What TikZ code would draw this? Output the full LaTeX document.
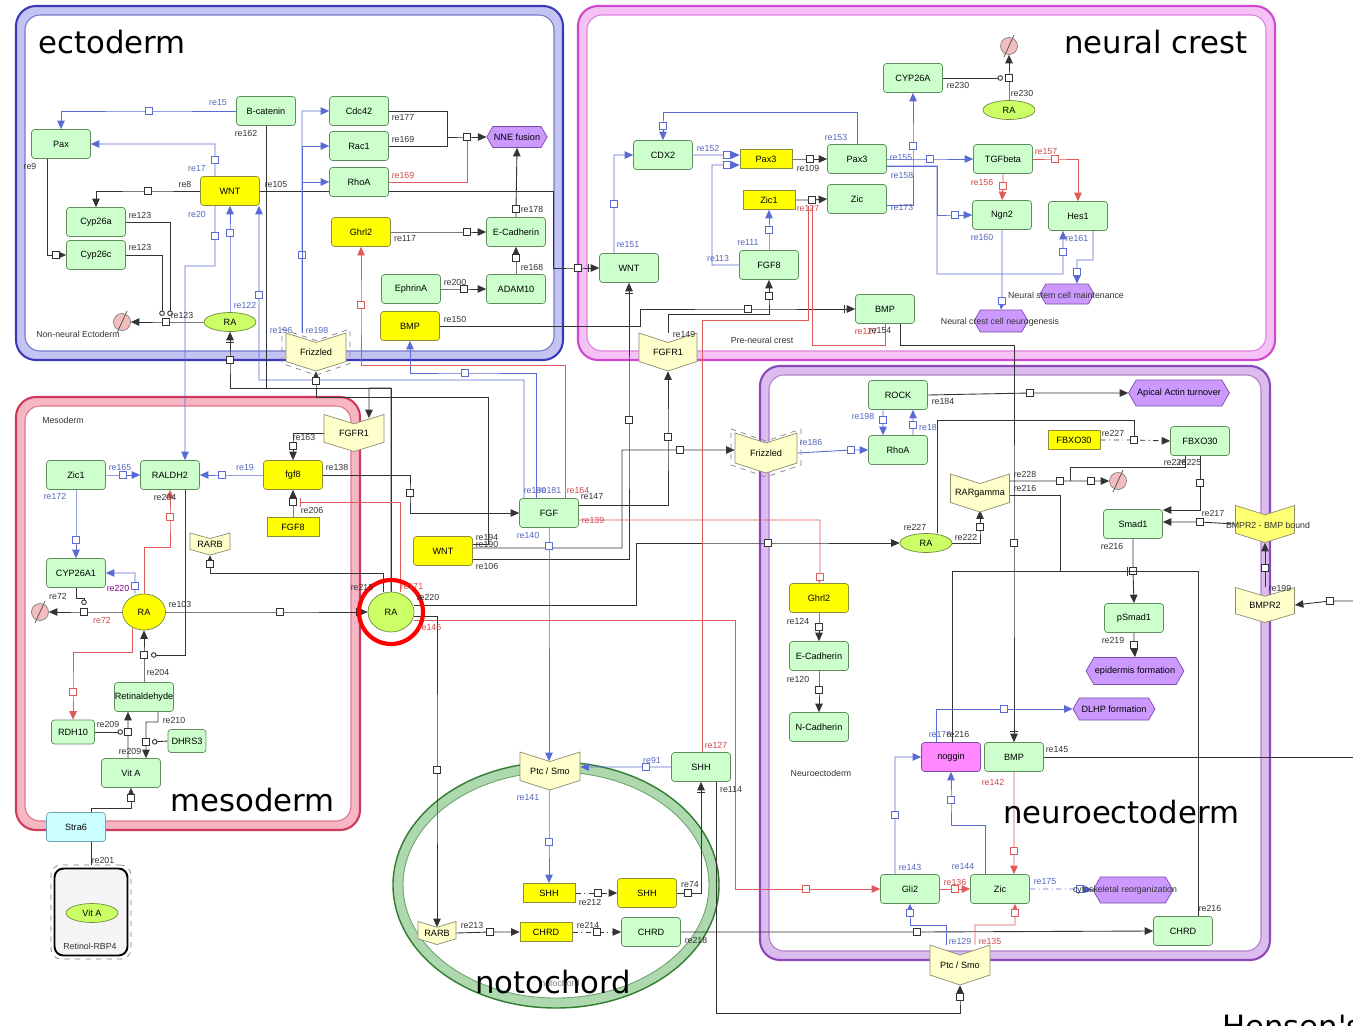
\documentclass[tikz,border=0pt]{standalone}
\usepackage{fontspec}
\setmainfont{Liberation Sans}
\newfontfamily\bigf{DejaVu Sans}
\usetikzlibrary{arrows.meta,shapes.geometric,shapes.symbols}

\definecolor{specfill}{HTML}{CCFFCC}
\definecolor{specdraw}{HTML}{5E8C5E}
\definecolor{genefill}{HTML}{FFFF00}
\definecolor{genedraw}{HTML}{8C8C3C}
\definecolor{recfill}{HTML}{FFFFCC}
\definecolor{recdraw}{HTML}{8C8C6E}
\definecolor{simfill}{HTML}{CCFF66}
\definecolor{simdraw}{HTML}{6E8C3C}
\definecolor{phefill}{HTML}{CC99FF}
\definecolor{phedraw}{HTML}{7A4AA8}
\definecolor{degfill}{HTML}{F4BDBD}
\definecolor{nogfill}{HTML}{FF88FF}
\definecolor{strafill}{HTML}{CCFFFF}
\definecolor{lnblue}{HTML}{5A6AD6}
\definecolor{lnred}{HTML}{E05A5A}
\definecolor{lnblack}{HTML}{333333}
\definecolor{labblue}{HTML}{5566BB}
\definecolor{labred}{HTML}{D04848}
\definecolor{ectoline}{HTML}{3A3AB8}
\definecolor{ectoband}{HTML}{C4C4F2}
\definecolor{crestline}{HTML}{D048D0}
\definecolor{crestband}{HTML}{F6C2F6}
\definecolor{mesoline}{HTML}{D03A5A}
\definecolor{mesoband}{HTML}{F6B6C4}
\definecolor{neuroline}{HTML}{8A48B8}
\definecolor{neuroband}{HTML}{DCBCEE}
\definecolor{notoline}{HTML}{2E7D2E}
\definecolor{notoband}{HTML}{AED8AE}

\pgfdeclarelayer{comp}
\pgfdeclarelayer{edges}
\pgfsetlayers{comp,edges,main}

\tikzset{
  fs/.style={font=\fontsize{5.2}{6}\selectfont},
  spec/.style={rectangle, rounded corners=0.06cm, draw=specdraw, fill=specfill, minimum width=1.18cm, minimum height=0.58cm, inner sep=0, fs},
  gene/.style={spec, fill=genefill, draw=genedraw},
  rna/.style={rectangle, draw=genedraw, fill=genefill, minimum width=1.04cm, minimum height=0.38cm, inner sep=0, fs},
  simple/.style={ellipse, draw=simdraw, fill=simfill, minimum width=1.04cm, minimum height=0.38cm, inner sep=0, fs},
  pheno/.style={signal, signal to=east and west, signal pointer angle=120, draw=phedraw, fill=phefill, minimum width=1.2cm, minimum height=0.42cm, inner xsep=0.02cm, inner ysep=0, fs},
  recbox/.style={inner sep=0, fs},
  recshape/.style={draw=recdraw, fill=recfill},
  degr/.style={circle, draw=gray, fill=degfill, minimum size=0.34cm, inner sep=0},
  proc/.style={rectangle, draw, fill=white, minimum size=0.15cm, inner sep=0, line width=0.4pt},
  lab/.style={inner sep=0, font=\fontsize{5}{6}\selectfont, text=lnblack},
  bk/.style={color=lnblack, line width=0.5pt},
  bl/.style={color=lnblue, line width=0.5pt},
  rd/.style={color=lnred, line width=0.5pt},
  arr/.style={-{Triangle[length=0.17cm,width=0.15cm]}},
  trig/.style={-{Bar[width=0.16cm,sep=0.04cm]Triangle[length=0.17cm,width=0.15cm]}},
  cat/.style={-{Circle[open,length=0.11cm]}},
  inhb/.style={-{Bar[width=0.18cm]}},
  big/.style={inner sep=0, font=\bigf\fontsize{17.5}{20}\selectfont},
}

\newcommand{\compart}[6]{%
  \draw[rounded corners=0.4cm, fill=#6, draw=#5, line width=1.2pt] (#1,#2) rectangle (#3,#4);
  \draw[rounded corners=0.3cm, fill=white, draw=#5!70, line width=0.6pt] ({#1+9},{#2+9}) rectangle ({#3-9},{#4-9});}
\newcommand{\recpoly}[5][]{%
  \filldraw[recshape,#1] ({#2-#4/2},{#3-#5/2}) -- (#2,{#3-#5/4}) -- ({#2+#4/2},{#3-#5/2})
    -- ({#2+#4/2},{#3+#5/4}) -- (#2,{#3+#5/2}) -- ({#2-#4/2},{#3+#5/4}) -- cycle;}
\newcommand{\recep}[7][]{%
  \recpoly[#1]{#3}{#4}{#5}{#6}
  \node[recbox, minimum width={#5*0.02cm}, minimum height={#6*0.02cm}] (#2) at (#3,#4) {#7};}
\newcommand{\degsym}[3]{%
  \node[degr] (#1) at (#2,#3) {};
  \draw[gray!60!black] ([shift={(-0.1cm,-0.22cm)}]#1.center) -- ([shift={(0.1cm,0.22cm)}]#1.center);}
\newcommand{\klab}[3]{\node[lab] at (#1,#2) {#3};}
\newcommand{\blab}[3]{\node[lab, text=labblue] at (#1,#2) {#3};}
\newcommand{\rlab}[3]{\node[lab, text=labred] at (#1,#2) {#3};}

\begin{document}
\begin{tikzpicture}[x=0.02cm, y=-0.02cm]
\useasboundingbox (0,0) rectangle (1353,1025);

\begin{pgfonlayer}{comp}
\compart{16}{6}{563}{360}{ectoline}{ectoband}
\compart{578}{6}{1275}{360}{crestline}{crestband}
\compart{16}{397}{360}{830}{mesoline}{mesoband}
\compart{760}{366}{1270}{960}{neuroline}{neuroband}
\draw[notoband, line width=0.2cm] (556,885) ellipse [x radius=158, y radius=118];
\draw[notoline, line width=0.8pt] (556,885) ellipse [x radius=163, y radius=123];
\draw[notoline!70, line width=0.5pt] (556,885) ellipse [x radius=153, y radius=113];
\end{pgfonlayer}

% ectoderm
\node[spec] (bcat) at (266,111) {B-catenin};
\node[spec] (paxE) at (61,144) {Pax};
\node[gene] (wntE) at (230,191) {WNT};
\node[spec] (cyp26a) at (96,222) {Cyp26a};
\node[spec] (cyp26c) at (96,255) {Cyp26c};
\node[simple] (raE) at (230,322) {RA};
\degsym{degE}{122}{322}
\node[spec] (cdc42) at (359,111) {Cdc42};
\node[spec] (rac1) at (359,146) {Rac1};
\node[spec] (rhoaE) at (359,182) {RhoA};
\node[pheno] (nne) at (517,137) {NNE fusion};
\node[gene] (ghrl2E) at (361,232) {Ghrl2};
\node[spec] (ecadE) at (516,232) {E-Cadherin};
\node[spec] (ephA) at (411,289) {EphrinA};
\node[spec] (adam10) at (516,289) {ADAM10};
\node[gene] (bmpE) at (410,326) {BMP};
\recpoly[draw=gray, dashed, fill=none]{316}{352}{68}{46}
\recep{frzE}{316}{352}{60}{38}{Frizzled}

% neural crest
\node[spec] (cdx2) at (663,155) {CDX2};
\node[rna] (pax3r) at (766,159) {Pax3};
\node[spec] (pax3) at (857,159) {Pax3};
\node[rna] (zic1r) at (769,200) {Zic1};
\node[spec] (zicN) at (857,199) {Zic};
\node[spec] (fgf8N) at (769,265) {FGF8};
\node[spec] (wntN) at (629,268) {WNT};
\node[spec] (cyp26A) at (913,78) {CYP26A};
\node[simple] (raN) at (1009,110) {RA};
\degsym{degN}{1009}{46}
\node[spec] (tgfb) at (1003,159) {TGFbeta};
\node[spec] (ngn2) at (1002,215) {Ngn2};
\node[spec] (hes1) at (1078,216) {Hes1};
\node[pheno, minimum width=1.08cm, minimum height=0.4cm] (nsc) at (1067,294) {};
\node[pheno, minimum width=1.08cm, minimum height=0.44cm] (ncn) at (1001,321) {};
\node[spec] (bmpN) at (885,309) {BMP};
\recep{fgfr1N}{668}{352}{58}{38}{FGFR1}

% mesoderm
\node[spec] (zic1M) at (76,475) {Zic1};
\node[spec] (raldh2) at (170,475) {RALDH2};
\node[gene] (fgf8g) at (293,475) {fgf8};
\node[rna] (fgf8r) at (293,527) {FGF8};
\recep{fgfr1M}{354}{433}{60}{37}{FGFR1}
\recep{rarbM}{210}{544}{40}{22}{RARB}
\node[spec] (cyp26a1) at (76,573) {CYP26A1};
\node[simple, fill=genefill, minimum width=0.86cm, minimum height=0.72cm] (raM) at (144,612) {RA};
\degsym{degM}{40}{612}
\node[spec] (retal) at (144,697) {Retinaldehyde};
\node[spec, minimum width=0.86cm, minimum height=0.48cm] (rdh10) at (73,732) {RDH10};
\node[spec, minimum width=0.76cm, minimum height=0.46cm] (dhrs3) at (187,741) {DHRS3};
\node[spec] (vitA) at (131,773) {Vit A};
\node[spec, fill=strafill, draw=cyan!40!gray] (stra6) at (76,827) {Stra6};
\node[draw=gray, dashed, rounded corners=0.2cm, minimum width=1.6cm, minimum height=1.88cm] (cplx) at (91,912) {};
\node[draw=black, line width=1.1pt, fill=gray!8, rounded corners=0.18cm, minimum width=1.46cm, minimum height=1.74cm] (cplxin) at (91,912) {};
\node[simple] (vitAc) at (92,913) {Vit A};
\node[simple, minimum width=0.92cm, minimum height=0.8cm] (raC) at (391,612) {RA};
\draw[red, line width=2.4pt] (raC) circle [radius=32];
\node[spec] (fgfC) at (549,513) {FGF};
\node[gene] (wntC) at (443,551) {WNT};

% neuroectoderm
\node[spec] (rock) at (898,395) {ROCK};
\node[spec] (rhoaN) at (898,450) {RhoA};
\recpoly[draw=gray, dashed, fill=none]{766}{453}{70}{48}
\recep{frzN}{766}{453}{62}{40}{Frizzled}
\node[pheno, minimum width=1.84cm, minimum height=0.52cm] (apical) at (1179,393) {Apical Actin turnover};
\node[rna] (fbxr) at (1074,440) {FBXO30};
\node[spec] (fbx) at (1200,441) {FBXO30};
\degsym{degNE}{1118}{481}
\recep{rarg}{980}{493}{59}{38}{RARgamma}
\node[spec] (smad1) at (1133,524) {Smad1};
\recep[fill=genefill!55]{bmpb}{1265}{524}{59}{37}{}
\recep{bmpr2}{1265}{605}{59}{35}{BMPR2}
\node[simple] (raNE) at (926,543) {RA};
\node[gene] (ghrl2N) at (819,598) {Ghrl2};
\node[spec] (ecadN) at (819,656) {E-Cadherin};
\node[spec] (ncad) at (819,727) {N-Cadherin};
\node[spec] (psmad1) at (1134,618) {pSmad1};
\node[pheno, minimum width=1.9cm, minimum height=0.54cm] (epid) at (1135,671) {epidermis formation};
\node[pheno, minimum width=1.64cm, minimum height=0.44cm] (dlhp) at (1114,709) {DLHP formation};
\node[spec, fill=nogfill, draw=phedraw] (noggin) at (951,757) {noggin};
\node[spec] (bmpNE) at (1014,757) {BMP};
\node[spec] (gli2) at (910,889) {Gli2};
\node[spec] (zicNE) at (1000,889) {Zic};
\node[pheno, minimum width=1.6cm, minimum height=0.52cm] (cyto) at (1133,890) {};
\node[spec] (chrdNE) at (1183,931) {CHRD};
\recep{ptcNE}{960}{965}{60}{40}{Ptc / Smo}

% notochord
\recep{ptcC}{550}{771}{60}{38}{Ptc / Smo}
\node[spec] (shhC) at (701,767) {SHH};
\node[rna] (shhr) at (549,893) {SHH};
\node[gene] (shhg) at (647,893) {SHH};
\recep{rarbC}{437}{933}{38}{23}{RARB}
\node[rna] (chrdr) at (546,932) {CHRD};
\node[spec] (chrdC) at (651,932) {CHRD};

\coordinate (p127) at (812,206);
\coordinate (offR) at (1353,601);
\coordinate (offB) at (1353,757);

\begin{pgfonlayer}{edges}
% ectoderm
\draw[bl,arr] (bcat.west) -- (149,111) node[proc]{} -| (paxE.north);
\draw[bl,arr] ([xshift=-0.3cm]wntE.north) -- (215,160) node[proc]{} |- (paxE.east);
\draw[bk,arr] (wntE.west) -- (148,191) node[proc]{} -| (cyp26a.north);
\draw[bk,arr] ([xshift=-0.28cm]paxE.south) |- (56,255) node[proc]{} -- (cyp26c.west);
\draw[bk,cat] (cyp26a.east) -| (170,316);
\draw[bk,cat] (cyp26c.east) -| (162,316);
\draw[bk,arr] (raE.west) -- (166,322) node[proc]{} -- (degE.east);
\draw[bl,arr] (raE.north) -- (230,233) node[proc]{} -- (wntE.south);
\draw[bl,arr] ([xshift=-0.5cm]fgfC.north) |- (259,380) -- (259,295) node[proc]{} -- ([xshift=0.58cm]wntE.south);
\draw[bl,arr] ([xshift=-0.26cm]fgfC.north) |- (465,373) node[proc]{} -| (bmpE.south);
\draw[bl,arr] ([xshift=-0.3cm]wntE.south) -- (215,236) node[proc]{} |- (185,266) -- ([xshift=0.3cm]raldh2.north);
\draw[bk,trig] (wntE.east) -| (553,268) -- (578,268) node[proc]{} -- (wntN.west);
\draw[bk] (bcat.south) -- (266,388);
\draw[bl,arr] ([xshift=-0.28cm]frzE.north) -- (302,255) node[proc]{} |- (cdc42.west);
\draw[bl,arr] ([xshift=-0.28cm]frzE.north) |- (rac1.west);
\draw[bl,arr] ([xshift=-0.28cm]frzE.north) |- (rhoaE.west);
\draw[bk,arr] (cdc42.east) -| (447,137) -- (467,137) node[proc]{} -- (nne.west);
\draw[bk] (rac1.east) -| (447,137);
\draw[rd] (rhoaE.east) -| (467,141);
\draw[bk,arr] (ecadE.north) -- (516,209) node[proc]{} -- (nne.south);
\draw[bk,arr] (ghrl2E.east) -- (467,232) node[proc]{} -- (ecadE.west);
\draw[bk,arr] (adam10.north) -- (516,258) node[proc]{} -- (ecadE.south);
\draw[bk,arr] (ephA.east) -- (464,289) node[proc]{} -- (adam10.west);
\draw[bk,trig] (bmpE.east) -| (640,309) -- (748,309) node[proc]{} -- (bmpN.west);
\draw[bk,arr] (fgfr1N.north) |- (769,314) -- (769,296) node[proc]{} -- (fgf8N.south);
\draw[rd,arr] ([xshift=0.32cm]fgfC.north) |- (361,365) -- (361,305) node[proc]{} -- (ghrl2E.south);
% RA of the mesoderm border
\draw[bk,trig] (raC.north) |- (230,388) -- (230,360) node[proc]{} -- (raE.south);
\draw[bk,arr] (raC.north) |- (369,388) -- ([xshift=0.3cm,yshift=-0.08cm]fgfr1M.north);
\draw[bk,arr] ([yshift=0.14cm]wntC.east) -| (488,397) -| (316,381) node[proc]{} -- (frzE.south);
\draw[bk,arr] ([yshift=0.06cm]wntC.east) -| (622,450) -- (680,450) node[proc]{} -- ([yshift=0.06cm]frzN.west);
\draw[bk,trig] ([yshift=-0.16cm]wntC.east) -| (629,420) node[proc]{} -- (wntN.south);
\draw[bk,arr] ([yshift=0.16cm]fgfC.east) -| (668,437) node[proc]{} -- (fgfr1N.south);
\draw[rd,arr] ([yshift=-0.14cm]fgfC.east) -| (820,577) node[proc]{} -- (ghrl2N.north);
\draw[bk,arr] (fgf8g.east) -| (410,493) node[proc]{} |- (fgfC.west);
\draw[bl,arr] (fgf8g.west) -- (222,475) node[proc]{} -- (raldh2.east);
\draw[bk,arr] (fgfr1M.west) -| (293,446) node[proc]{} -- (fgf8g.north);
\draw[bk,arr] (fgf8r.north) -- (293,502) node[proc]{} -- (fgf8g.south);
\draw[rd,inhb] ([xshift=0.18cm]raC.north) |- (300,502);
\draw[rd,arr] ([yshift=-0.16cm]raC.east) -| (735,889) -- (806,889) node[proc]{} -- (gli2.west);
\draw[bk,trig] (raM.east) -- (280,612) node[proc]{} -- (raC.west);
\draw[bk,arr] ([xshift=-0.16cm]raC.north) |- (210,573) -- (210,564) node[proc]{} -- (rarbM.south);
\draw[bk,arr] ([yshift=0.14cm]raC.east) -| (636,543) -- (768,543) node[proc]{} -- (raNE.west);
\draw[bk,arr] ([yshift=-0.08cm]raC.east) -| (437,770) node[proc]{} -- ([yshift=-0.12cm]rarbC.north);
% mesoderm
\draw[bl,arr] (zic1M.east) -- (123,475) node[proc]{} -- (raldh2.west);
\draw[bl,arr] (zic1M.south) -- (76,540) node[proc]{} -- (cyp26a1.north);
\draw[rd,arr] (raM.north) |- (170,547) -- (170,517) node[proc]{} -- (raldh2.south);
\draw[bl,arr] ([xshift=-0.18cm]raM.north) -- (135,586) node[proc]{} |- (cyp26a1.east);
\draw[bk,cat] ([xshift=0.3cm]raldh2.south) |- (151,655);
\draw[bk,arr] (retal.north) -- (144,655) node[proc]{} -- (raM.south);
\draw[rd,arr] (raM.235) |- (73,652) -- (73,692) node[proc]{} -- (rdh10.north);
\draw[bk,arr] (raM.west) -- (84,612) node[proc]{} -- (degM.east);
\draw[bk,cat] (cyp26a1.south) |- (84,598) -- (84,605);
\draw[bk,arr] ([xshift=-0.06cm]vitA.north) -- (128,732) node[proc]{} -- ([xshift=-0.32cm]retal.south);
\draw[bk,cat] (rdh10.east) -- (123,732);
\draw[bk,arr] ([xshift=0.28cm]retal.south) |- (146,722) -- (146,742) node[proc]{} -- ([xshift=0.3cm]vitA.north);
\draw[bk,cat] (dhrs3.west) -- (152,742);
\draw[bk,trig] (cplx.north) |- (131,808) -- (131,798) node[proc]{} -- (vitA.south);
% neural crest
\draw[bl,arr] ([xshift=-0.3cm]wntN.north) -- (614,204) node[proc]{} |- (cdx2.west);
\draw[bl,arr] (cdx2.east) -- (727,155) node[proc]{} -- ([yshift=0.08cm]pax3r.west);
\draw[bl,arr] (fgf8N.west) -| (712,165) -- (727,165) node[proc]{} -- ([yshift=-0.12cm]pax3r.west);
\draw[bl,arr] (fgf8N.north) -- (769,230) node[proc]{} -- (zic1r.south);
\draw[bk,arr] (pax3r.east) -- (810,159) node[proc]{} -- (pax3.west);
\draw[bk,arr] (zic1r.east) -- (812,200) node[proc]{} -- (zicN.west);
\draw[bl,arr] (pax3.north) |- (663,112) -- (663,126) node[proc]{} -- (cdx2.north);
\draw[bl,arr] (pax3.east) -- (930,159) node[proc]{} -- (tgfb.west);
\draw[bl,arr] ([yshift=-0.12cm]zicN.east) -| (913,146) node[proc]{} -- (cyp26A.south);
\draw[bl,arr] ([yshift=-0.14cm]pax3.east) -| (937,274) -| (1063,252) node[proc]{} -- ([xshift=-0.3cm]hes1.south);
\draw[bl,arr] ([yshift=-0.14cm]pax3.east) -| (937,215) -- (955,215) node[proc]{} -- (ngn2.west);
\draw[rd,arr] (tgfb.south) -- (1003,186) node[proc]{} -- (ngn2.north);
\draw[rd,arr] (tgfb.east) -- (1055,159) node[proc]{} -| (hes1.north);
\draw[bl,arr] (ngn2.south) -- (1002,301) node[proc]{} -- (ncn.north);
\draw[bl,arr] ([xshift=0.3cm]hes1.south) |- (1077,260) -- (1077,272) node[proc]{} -- ([xshift=0.2cm]nsc.north);
\draw[bk,arr] (raN.north) -- (1009,78) node[proc]{} -- (degN.south);
\draw[bk,cat] (cyp26A.east) -- (1003,78);
\draw[bk,trig] ([xshift=0.3cm]bmpN.south) |- (1014,345) -- (1014,543) node[proc]{} -- (bmpNE.north);
\draw[rd] ([xshift=0.02cm]shhC.north) |- (808,320) -- (808,206);
\draw[rd] (p127) |- (885,345) -- (bmpN.south);
% notochord
\draw[bl,arr] (shhC.west) -- (646,767) node[proc]{} -- ([yshift=0.08cm]ptcC.east);
\draw[bl,arr] (fgfC.south) -- (549,546) node[proc]{} -- ([xshift=-0.02cm,yshift=-0.19cm]ptcC.north);
\draw[bl,arr] ([xshift=-0.02cm]ptcC.south) -- (549,842) node[proc]{} -- (shhr.north);
\draw[bk,arr,dash dot] (shhr.east) -- (598,893) node[proc,solid]{} -- (shhg.west);
\draw[bk,trig] (shhg.east) -- (688,893) node[proc]{} -| (shhC.south);
\draw[bk,arr] (rarbC.east) -- (490,932) node[proc]{} -- (chrdr.west);
\draw[bk,arr,dash dot] (chrdr.east) -- (597,932) node[proc,solid]{} -- (chrdC.west);
\draw[bk,arr] (chrdC.east) -- (917,932) node[proc]{} -- (chrdNE.west);
\draw[bk,arr] ([xshift=0.3cm]shhC.south) |- (960,1013) -- (960,997) node[proc]{} -- (ptcNE.south);
% neuroectoderm
\draw[bl,arr] (frzN.east) -- (851,450) node[proc]{} -- (rhoaN.west);
\draw[bl,arr] ([xshift=-0.3cm]rock.south) -- (883,420) node[proc]{} -- ([xshift=-0.3cm]rhoaN.north);
\draw[bl,arr] ([xshift=0.3cm]rhoaN.north) -- (913,425) node[proc]{} -- ([xshift=0.3cm]rock.south);
\draw[bk,arr] (rock.east) -- (1030,393) node[proc]{} -- (apical.west);
\draw[bk,arr] (raNE.east) -| (980,527) node[proc]{} -- ([yshift=0.04cm]rarg.south);
\draw[bk] ([xshift=0.22cm]raNE.north) |- (1134,420) -- (1134,436);
\draw[bk,arr,dash dot] (fbxr.east) -- (1134,440) node[proc,solid]{} -- (fbx.west);
\draw[bk,arr] ([yshift=0.24cm]rarg.east) -- (1060,481) node[proc]{} -- (1091,481) node[proc]{} -- (degNE.west);
\draw[bk] ([xshift=-0.3cm]fbx.south) |- (1070,467) -- (1070,481);
\draw[bk,arr] (fbx.south) -- (1200,483) node[proc]{} |- ([yshift=0.28cm]smad1.east);
\draw[bk,arr] (bmpb.west) -- (1200,522) node[proc]{} -- ([yshift=0.04cm]smad1.east);
\draw[bk,arr] (bmpr2.north) -- (1265,568) node[proc]{} -- (bmpb.south);
\draw[bk,arr] (offR) -- (1330,601) node[proc]{} -- (bmpr2.east);
\draw[bk,arr] (smad1.south) -- (1133,571) node[proc]{} -- (psmad1.north);
\draw[bk,inhb] ([yshift=-0.04cm]rarg.east) -| (1060,571) -- (1128,571);
\draw[bk] ([xshift=0.3cm]chrdNE.north) |- (952,571) -- ([xshift=0.02cm]noggin.north);
\draw[bk,arr] (ghrl2N.south) -- (819,627) node[proc]{} -- (ecadN.north);
\draw[bk,arr] (ecadN.south) -- (819,690) node[proc]{} -- (ncad.north);
\draw[bk,arr] (psmad1.south) -- (1134,645) node[proc]{} -- (epid.north);
\draw[bl,arr] ([xshift=-0.3cm]noggin.north) |- (1004,709) node[proc]{} -- (dlhp.west);
\draw[bl,arr] ([xshift=-0.3cm]gli2.north) -- (895,815) node[proc]{} |- (noggin.west);
\draw[bl,arr] ([xshift=-0.3cm]zicNE.north) |- (951,825) -- (951,800) node[proc]{} -- (noggin.south);
\draw[rd,arr] (bmpNE.south) -- (1014,851) node[proc]{} -- ([xshift=0.28cm]zicNE.north);
\draw[bk] (bmpNE.east) -- (offB);
\draw[rd,arr] (gli2.east) -- (955,889) node[proc]{} -- (zicNE.west);
\draw[bl,arr,dash dot] (zicNE.east) -- (1080,889) node[proc,solid]{} -- (cyto.west);
\draw[bl,arr] ([xshift=-0.28cm]ptcNE.north) |- (910,925) -- (910,913) node[proc]{} -- (gli2.south);
\draw[rd,arr] ([xshift=0.3cm]ptcNE.north) |- (1015,925) -- (1015,913) node[proc]{} -- ([xshift=0.3cm]zicNE.south);
\end{pgfonlayer}

% texts
\node[lab] at (78,334) {Non-neural Ectoderm};
\node[lab] at (762,340) {Pre-neural crest};
\node[lab] at (1066,295) {Neural stem cell maintenance};
\node[lab] at (1000,322) {Neural crest cell neurogenesis};
\node[lab] at (63,420) {Mesoderm};
\node[lab] at (90,946) {Retinol-RBP4};
\node[lab] at (821,773) {Neuroectoderm};
\node[lab] at (1125,890) {cytoskeletal reorganization};
\node[lab] at (1268,525) {BMPR2 - BMP bound};
\node[lab, text=gray] at (560,983) {notochord};
\klab{246}{133}{re162}\blab{218}{103}{re15}\klab{30}{166}{re9}\blab{197}{169}{re17}
\klab{185}{184}{re8}\klab{276}{184}{re105}\blab{197}{214}{re20}\klab{140}{215}{re123}
\klab{140}{247}{re123}\klab{182}{315}{re123}\blab{245}{305}{re122}\blab{281}{330}{re196}
\blab{317}{330}{re198}\klab{403}{118}{re177}\klab{403}{139}{re169}\rlab{403}{175}{re169}
\klab{532}{209}{re178}\klab{405}{239}{re117}\klab{532}{267}{re168}\klab{455}{282}{re200}
\klab{455}{319}{re150}
\blab{628}{245}{re151}\blab{708}{148}{re152}\blab{836}{137}{re153}\klab{808}{168}{re109}
\rlab{808}{208}{re127}\blab{718}{258}{re113}\blab{748}{243}{re111}\blab{901}{158}{re155}
\blab{902}{175}{re158}\blab{902}{207}{re173}\klab{958}{85}{re230}\klab{1022}{93}{re230}
\rlab{982}{182}{re156}\rlab{1046}{152}{re157}\blab{982}{237}{re160}\blab{1077}{238}{re161}
\klab{684}{334}{re149}\rlab{866}{331}{re127}\klab{880}{331}{re154}
\klab{304}{437}{re163}\blab{120}{467}{re165}\blab{245}{467}{re19}\klab{337}{467}{re138}
\blab{55}{496}{re172}\klab{165}{497}{re204}\klab{312}{510}{re206}\klab{58}{596}{re72}
\rlab{102}{620}{re72}\klab{180}{604}{re103}\node[lab, text=violet] at (118,588) {re220};
\klab{158}{672}{re204}\klab{108}{724}{re209}\klab{174}{720}{re210}\klab{130}{751}{re209}
\klab{103}{860}{re201}\klab{362}{587}{re215}\rlab{412}{587}{re171}\klab{428}{597}{re220}
\rlab{430}{627}{re146}\klab{487}{537}{re194}\klab{487}{544}{re190}\klab{487}{566}{re106}
\klab{592}{497}{re147}\rlab{578}{490}{re164}\blab{535}{490}{re180}\blab{550}{490}{re181}
\rlab{593}{520}{re139}\blab{528}{535}{re140}
\blab{652}{760}{re91}\blab{528}{798}{re141}\rlab{716}{745}{re127}\klab{731}{790}{re114}
\klab{690}{885}{re74}\klab{590}{902}{re212}\klab{472}{925}{re213}\klab{588}{925}{re214}
\klab{696}{940}{re218}
\klab{943}{401}{re184}\blab{863}{416}{re198}\blab{928}{427}{re18}\blab{811}{442}{re186}
\klab{1113}{433}{re227}\klab{1025}{474}{re228}\klab{1025}{488}{re216}\klab{1175}{462}{re226}
\klab{1190}{462}{re225}\klab{1213}{513}{re217}\klab{915}{527}{re227}\klab{966}{537}{re222}
\klab{1112}{546}{re216}\klab{1280}{588}{re199}\klab{798}{621}{re124}\klab{1113}{640}{re219}
\klab{798}{679}{re120}\blab{940}{734}{re176}\klab{958}{734}{re216}\klab{1057}{750}{re145}
\rlab{993}{782}{re142}\blab{910}{867}{re143}\blab{963}{867}{re144}\rlab{955}{882}{re136}
\blab{1045}{882}{re175}\klab{1210}{908}{re216}\blab{960}{941}{re129}\rlab{990}{941}{re135}

% compartment names
\node[big, anchor=west] at (38,42) {ectoderm};
\node[big, anchor=east] at (1248,42) {neural crest};
\node[big, anchor=west] at (170,800) {mesoderm};
\node[big, anchor=west] at (1003,812) {neuroectoderm};
\node[big] at (553,982) {notochord};
\node[big, anchor=north west] at (1222,1014) {Hensen's node};
\end{tikzpicture}
\end{document}
